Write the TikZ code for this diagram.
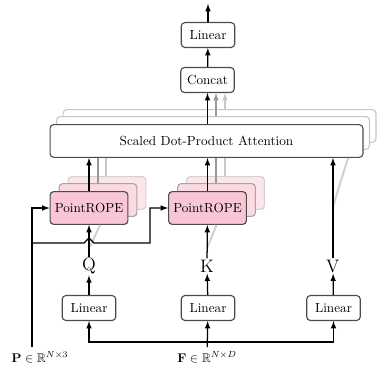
\documentclass[tikz,border=0pt]{standalone}
\usepackage{amsmath}
\usepackage{amssymb}
\usetikzlibrary{calc,arrows,shapes,positioning}
\definecolor{ropepink}{RGB}{249,198,214}
\definecolor{ropepinkA}{RGB}{251,218,226}
\definecolor{ropepinkB}{RGB}{253,230,234}
\tikzset{
    block/.style={
    rectangle,rounded corners=3pt,draw=black!70,line width=0.9pt,fill=white,
    minimum width=1.5cm,minimum height=0.7cm,inner sep=2pt,
    font=\fontsize{10.5}{12}\selectfont
    },
    attblock/.style={
    block,minimum width=8.76cm,minimum height=0.92cm
    },
    attback/.style={
    attblock,draw=black!22,text opacity=0
    },
    rope/.style={
    block,fill=ropepink,minimum width=2.18cm,minimum height=0.92cm
    },
    ropebackA/.style={
    rope,fill=ropepinkA,draw=black!35
    },
    ropebackB/.style={
    rope,fill=ropepinkB,draw=black!18
    },
    qkv/.style={
    font=\Large,inner sep=1pt
    },
    flow/.style={
    ->,>=latex,line width=1pt
    },
    flowgray/.style={
    flow,draw=black!40
    },
    flowlight/.style={
    flow,draw=black!22
    },
    depth/.style={
    draw=black!18,line width=1.6pt
    },
}
\begin{document}
\begin{tikzpicture}[x=0.028cm,y=-0.028cm]
   \useasboundingbox (0,0) rectangle (377,374);
   % back layers
   \node[attback] (att2) at (219.5,126) {};
   \node[attback] (att1) at (213,133) {};
   \node[ropebackB] (ropeq2) at (107,193) {};
   \node[ropebackA] (ropeq1) at (98,200) {};
   \node[ropebackB] (ropek2) at (225.5,193) {};
   \node[ropebackA] (ropek1) at (216.5,200) {};

   % front layers
   \node[block] (linout) at (208,35) {Linear};
   \node[block] (concat) at (207.5,80) {Concat};
   \node[attblock] (att) at (206.5,141) {Scaled Dot-Product Attention};
   \node[rope] (ropeq) at (89,208) {PointROPE};
   \node[rope] (ropek) at (207.5,208) {PointROPE};
   \node[qkv] (q) at (89,266) {$\mathrm{Q}$};
   \node[qkv] (k) at (207,266) {$\mathrm{K}$};
   \node[qkv] (v) at (333,266) {$\mathrm{V}$};
   \node[block] (linq) at (89,308) {Linear};
   \node[block] (link) at (208,308) {Linear};
   \node[block] (linv) at (333.5,308) {Linear};
   \node (feat) at (207,357) {$\mathbf{F}\in\mathbb{R}^{N\times D}$};
   \node (pos) at (40,357) {$\mathbf{P}\in\mathbb{R}^{N\times 3}$};

   \coordinate (out) at (208,4);
   \coordinate (pbus) at (32,243);
   \coordinate (kturn) at (150,243);
   \coordinate (fbus) at (207,342);

   % depth lines
   \draw[depth] ($(q.north)+(1,-10)$) -- ($(ropeq.south)+(11,0)$);
   \draw[depth] ($(k.north)+(0,-10)$) -- ($(ropek.south)+(9,0)$);
   \draw[depth] ($(v.north)+(0,-52)$) -- ($(att.south -| v)+(15,0)$);

   % output
   \draw[flow] (linout) -- (out);
   \draw[flow] (concat) -- (linout);
   \draw[flow] (att.north -| concat) -- (concat);
   \draw[flowgray] (att1.north -| 216,0) -- (concat.south -| 216,0);
   \draw[flowlight] (att2.north -| 225,0) -- (concat.south -| 225,0);

   % rope to attention
   \draw[flow] (ropeq) -- (att.south -| ropeq);
   \draw[draw=black!40,line width=1pt] (ropeq1.north -| 98,0) -- (att.south -| 98,0);
   \draw[draw=black!22,line width=1pt] (ropeq2.north -| 106,0) -- (att.south -| 106,0);
   \draw[flow] (ropek) -- (att.south -| ropek);
   \draw[draw=black!40,line width=1pt] (ropek1.north -| 216,0) -- (att.south -| 216,0);
   \draw[draw=black!22,line width=1pt] (ropek2.north -| 225,0) -- (att.south -| 225,0);
   \draw[flow] (v) -- (att.south -| v);

   % q k v
   \draw[flow] (q) -- (ropeq);
   \draw[flow] (k) -- (ropek);
   \draw[flow] (linq) -- (q);
   \draw[flow] (link) -- (k);
   \draw[flow] (linv) -- (v);

   % features
   \draw[flow] (feat) -- (link);
   \draw[flow] (fbus) -| (linq);
   \draw[flow] (fbus) -| (linv);

   % positions
   \draw[flow] (pos.north -| pbus) |- (ropeq.west);
   \draw[flow] (pbus) -- ($(pbus -| q)+(-5,0)$) -- ($(pbus -| q)+(0,-5)$)
      -- ($(pbus -| q)+(5,0)$) -- (kturn) |- (ropek.west);
\end{tikzpicture}
\end{document}
